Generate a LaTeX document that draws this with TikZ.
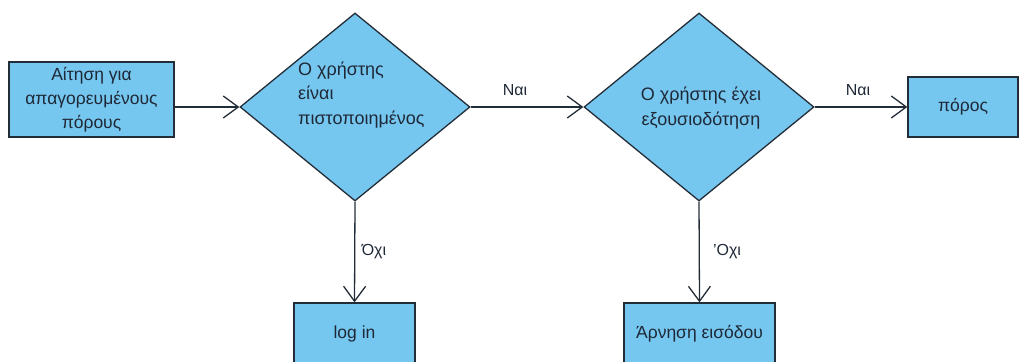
\documentclass[tikz,border=0pt]{standalone}
\usepackage{fontspec}
\setmainfont{Liberation Sans}
\usetikzlibrary{shapes.geometric,arrows.meta}
\definecolor{boxfill}{RGB}{118,199,239}
\definecolor{boxline}{RGB}{35,45,55}
\definecolor{txt}{RGB}{30,40,55}
\tikzset{
  procbox/.style={draw=boxline, fill=boxfill, line width=1.3pt, inner sep=0pt,
    text=txt, align=center, font=\fontsize{17.5}{24}\selectfont},
  decision/.style={draw=boxline, fill=boxfill, line width=1.3pt, diamond,
    inner sep=0pt, minimum width=230pt, minimum height=188pt},
  dtext/.style={text=txt, font=\fontsize{18}{24.5}\selectfont, inner sep=0pt},
  flow/.style={draw=boxline, line width=1.3pt,
    -{Straight Barb[length=15pt, width=22pt, line width=1.3pt]}},
  elabel/.style={text=txt, font=\fontsize{16}{18}\selectfont, inner sep=0pt}
}
\begin{document}
\begin{tikzpicture}[x=1pt, y=-1pt]
  \useasboundingbox (0,0) rectangle (1024,361);
  \clip (0,0) rectangle (1024,361);

  % process boxes
  \node[procbox, minimum width=165pt, minimum height=75pt] (req) at (91.5,99.5)
    {Αίτηση για\\απαγορευμένους\\πόρους};
  \node[procbox, minimum width=110pt, minimum height=60pt] (res) at (963,107) {πόρος};
  \node[procbox, minimum width=121pt, minimum height=62pt] (login) at (354.5,334) {log in};
  \node[procbox, minimum width=151pt, minimum height=62pt] (deny) at (699.5,334) {Άρνηση εισόδου};

  % decisions
  \node[decision] (d1) at (355,107) {};
  \node[dtext, align=left, anchor=west] (d1t) at (298,95) {Ο χρήστης\\είναι\\πιστοποιημένος};
  \node[decision] (d2) at (699,107) {};
  \node[dtext, align=center] (d2t) at (701,108) {Ο χρήστης έχει\\εξουσιοδότηση};

  % connectors
  \draw[flow] (req.east |- d1.west) -- (d1.west);
  \draw[flow] (d1.east) -- (d2.west);
  \draw[flow] (d2.east) -- (res.west);
  \draw[flow] (d1.south) -- (login.north);
  \draw[flow] (d2.south) -- (deny.north);

  % connector labels
  \node[elabel] (yes1) at (515,90) {Ναι};
  \node[elabel] (yes2) at (858,90) {Ναι};
  \node[elabel] (no1) at (374,252) {Όχι};
  \node[elabel] (no2) at (727,252) {’Οχι};
\end{tikzpicture}
\end{document}
